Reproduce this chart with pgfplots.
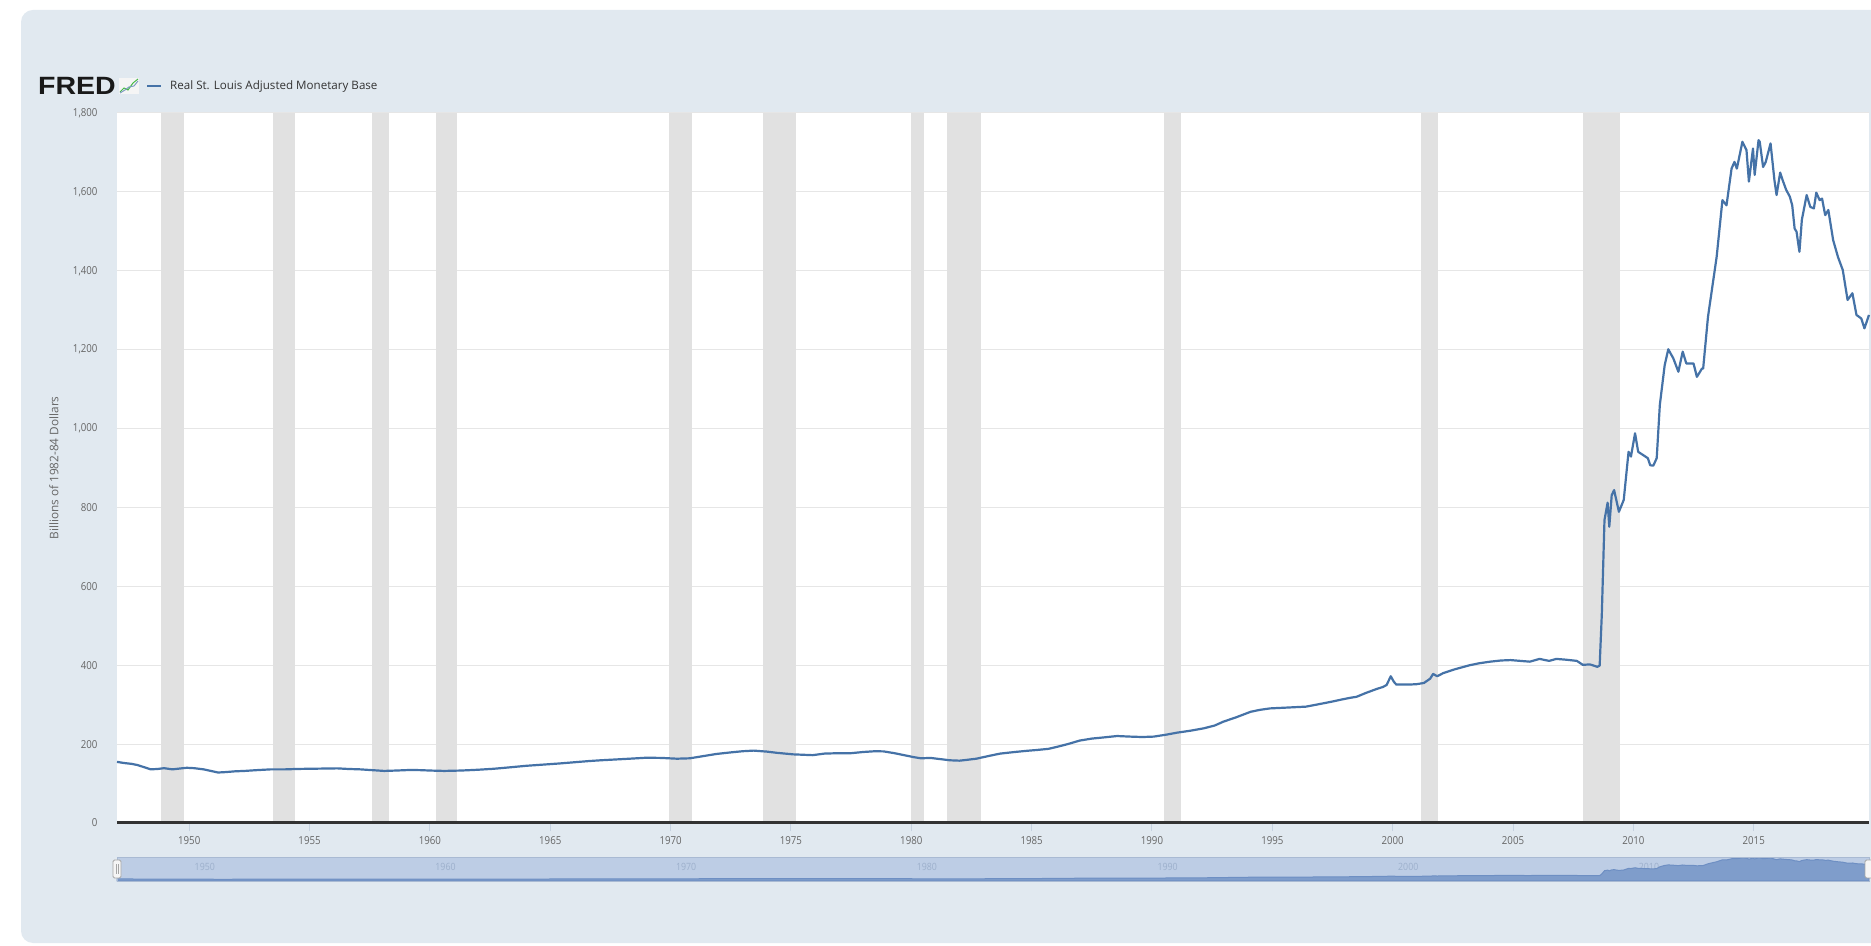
\documentclass[border=0pt]{standalone}
\usepackage{fontspec}
\setmainfont{Open Sans}[FakeStretch=0.88]
\newfontfamily\widefont{Open Sans}
\newfontfamily\logofont{Liberation Sans}
\usepackage{pgfplots}
\usepackage{pgfplotstable}
\pgfplotsset{compat=1.18}
\definecolor{bgc}{HTML}{E1E9F0}
\definecolor{recc}{HTML}{E1E1E1}
\definecolor{gridc}{HTML}{E6E6E6}
\definecolor{linec}{HTML}{4572A7}
\definecolor{axisc}{HTML}{333333}
\definecolor{tickc}{HTML}{666666}
\definecolor{navbg}{HTML}{BDCDE5}
\definecolor{navfill}{HTML}{7F9DCB}
\definecolor{navline}{HTML}{6E8FC3}
\definecolor{navlab}{HTML}{9DB0CC}
\definecolor{navborder}{HTML}{A9BAD3}
\definecolor{ticklinec}{HTML}{C6D2E0}

\pgfplotstableread{
x y
1947.00 155
1947.30 152
1947.60 150
1947.85 147
1948.10 142
1948.40 136
1948.70 137
1948.95 139
1949.30 136
1949.60 138
1949.90 140
1950.20 139
1950.60 136
1950.90 132
1951.20 128
1951.50 129
1951.90 131
1952.30 132
1952.80 134
1953.40 136
1954.00 136
1954.50 137
1955.00 137.5
1955.60 138
1956.15 138.5
1956.60 137
1957.10 136
1957.60 134
1958.10 132
1958.60 133
1959.20 134.5
1959.60 134
1960.00 133
1960.60 132
1961.30 133
1962.00 135
1962.66 137.5
1963.30 141
1964.00 145
1964.70 148
1965.40 151
1966.00 154
1966.60 157
1967.10 159
1967.70 161
1968.30 163
1969.00 165.5
1969.60 165
1970.27 163
1970.80 164
1971.40 170
1971.90 175
1972.50 179
1973.00 182
1973.45 183.5
1974.00 181
1974.40 178
1975.10 174
1975.50 173
1975.90 172
1976.40 176
1977.00 177
1977.50 177
1978.00 180
1978.50 182
1978.85 181.5
1979.30 177
1979.70 172
1980.10 167
1980.40 164
1980.80 165
1981.20 162
1981.60 159
1982.00 158
1982.30 160
1982.70 163
1983.30 171
1983.70 176
1984.30 180
1984.80 183
1985.20 185
1985.70 188
1986.05 193
1986.50 200
1987.00 209
1987.50 214
1988.00 217
1988.55 220.5
1989.10 219
1989.60 218
1990.07 219
1990.60 224
1991.04 229
1991.60 234
1992.15 240
1992.60 247
1992.97 257
1993.50 268
1994.10 282
1994.50 287
1994.90 290.5
1995.40 292
1995.74 293
1996.40 295
1997.00 302
1997.50 308
1997.80 312
1998.20 317
1998.50 320
1998.90 330
1999.30 339
1999.60 345
1999.75 350
1999.92 372
2000.05 358
2000.15 351
2000.70 351
2001.00 352
2001.30 355
2001.56 366
2001.68 378
2001.85 372
2002.10 380
2002.60 390
2003.20 400
2003.60 405
2004.05 409
2004.50 412
2004.90 413
2005.30 411
2005.70 409
2006.10 416
2006.50 411
2006.80 416
2007.20 414
2007.65 411
2007.90 401
2008.20 402
2008.50 396
2008.60 399
2008.69 530
2008.80 768
2008.93 812
2009.00 751
2009.10 831
2009.20 844
2009.40 789
2009.60 819
2009.80 941
2009.90 929
2010.07 988
2010.20 941
2010.60 925
2010.70 907
2010.83 906
2010.97 925
2011.10 1060
2011.30 1160
2011.45 1201
2011.66 1178
2011.87 1144
2012.05 1195
2012.20 1165
2012.50 1165
2012.64 1131
2012.85 1152
2012.90 1152
2013.10 1283
2013.46 1435
2013.70 1579
2013.87 1566
2014.08 1659
2014.20 1676
2014.30 1659
2014.53 1727
2014.70 1706
2014.80 1626
2014.97 1710
2015.04 1643
2015.20 1731
2015.25 1727
2015.39 1663
2015.50 1676
2015.70 1723
2015.86 1630
2015.95 1592
2016.10 1649
2016.20 1630
2016.35 1605
2016.50 1588
2016.60 1566
2016.70 1507
2016.78 1499
2016.90 1448
2017.00 1529
2017.20 1592
2017.35 1562
2017.50 1558
2017.60 1598
2017.74 1579
2017.84 1583
2017.97 1541
2018.10 1554
2018.30 1478
2018.50 1435
2018.70 1402
2018.90 1326
2019.10 1343
2019.27 1288
2019.47 1279
2019.60 1254
2019.79 1288
}\data

\newcommand{\recession}[2]{\addplot[draw=none, fill=recc, forget plot] coordinates {(#1,1800) (#2,1800)} \closedcycle;}

\begin{document}
\begin{tikzpicture}[x=1pt,y=1pt]
\useasboundingbox (0,0) rectangle (1871,945);
\fill[white] (0,0) rectangle (1871,945);
\fill[bgc, rounded corners=12pt] (21,2) rectangle (1900,935);

% logo and legend
\node[anchor=center, inner sep=0pt, text=black!90] at (77,859) {\logofont\fontsize{25}{25}\selectfont\bfseries\scalebox{1.14}[1]{FRED}};
\fill[white!92!gray] (119,851) rectangle (139,867);
\draw[green!45!gray, line width=1pt] (120,853) -- (124,857) -- (128,855) -- (133,862) -- (138,866);
\draw[linec!70, line width=1pt] (120,852) -- (125,855) -- (129,858) -- (134,859) -- (138,864);
\draw[linec, line width=2pt] (147,859) -- (161,859);
\node[anchor=west, inner sep=0pt, text=axisc] at (170,859) {\widefont\fontsize{11.6}{13}\selectfont Real St. Louis Adjusted Monetary Base};

% y label
\node[rotate=90, text=tickc] at (54,477) {\widefont\fontsize{11.8}{13}\selectfont Billions of 1982-84 Dollars};

\begin{axis}[
  at={(117pt,122pt)}, anchor=south west,
  scale only axis, width=1752pt, height=710pt,
  xmin=1947, xmax=2019.79, ymin=0, ymax=1800,
  axis background/.style={fill=white},
  axis x line*=bottom, axis y line*=left,
  axis line style={draw=none},
  xtick={1950,1955,...,2015},
  ytick={0,200,...,1800},
  scaled y ticks=false,
  x tick label style={/pgf/number format/1000 sep={}},
  y tick label style={/pgf/number format/1000 sep={,}},
  /pgf/number format/assume math mode=true,
  tick label style={font=\fontsize{11}{13}\selectfont, text=tickc},
  xticklabel style={yshift=-2pt},
  yticklabel style={xshift=-8pt},
  ymajorgrids, grid style={draw=gridc, line width=1pt},
  tick align=outside,
  major tick length=8pt,
  x tick style={draw=ticklinec, line width=1pt},
  y tick style={draw=none},
  clip=false,
]
\recession{1948.83}{1949.79}
\recession{1953.50}{1954.38}
\recession{1957.58}{1958.29}
\recession{1960.25}{1961.13}
\recession{1969.92}{1970.88}
\recession{1973.83}{1975.21}
\recession{1980.00}{1980.54}
\recession{1981.50}{1982.88}
\recession{1990.50}{1991.21}
\recession{2001.17}{2001.88}
\recession{2007.92}{2009.46}
\addplot[line width=2.2pt, color=linec, line join=round] table[x=x,y=y]{\data};
\draw[axisc, line width=3pt] (rel axis cs:0,0) -- (rel axis cs:1,0);
\end{axis}

\begin{axis}[
  at={(117pt,64pt)}, anchor=south west,
  scale only axis, width=1752pt, height=24pt,
  xmin=1947, xmax=2019.79, ymin=0, ymax=1790,
  axis background/.style={fill=navbg},
  axis line style={draw=none},
  ytick=\empty,
  xtick={1950,1960,...,2010},
  x tick label style={/pgf/number format/1000 sep={}},
  /pgf/number format/assume math mode=true,
  xticklabel style={anchor=west, font=\fontsize{10}{12}\selectfont, text=navlab, yshift=14pt, xshift=2pt},
  major tick length=0pt,
  clip=false,
]
\addplot[fill=navfill, draw=navline, line width=1pt] table[x=x,y=y]{\data} \closedcycle;
\draw[navborder, line width=0.8pt] (rel axis cs:0,0) rectangle (rel axis cs:1,1);
\end{axis}

% navigator handles
\draw[gray!70, fill=gray!8, rounded corners=1.5pt, line width=0.8pt] (113,67) rectangle (121,85);
\draw[gray!70, line width=0.6pt] (116,71) -- (116,81) (118,71) -- (118,81);
\draw[gray!70, fill=gray!8, rounded corners=1.5pt, line width=0.8pt] (1865,67) rectangle (1873,85);
\end{tikzpicture}
\end{document}
